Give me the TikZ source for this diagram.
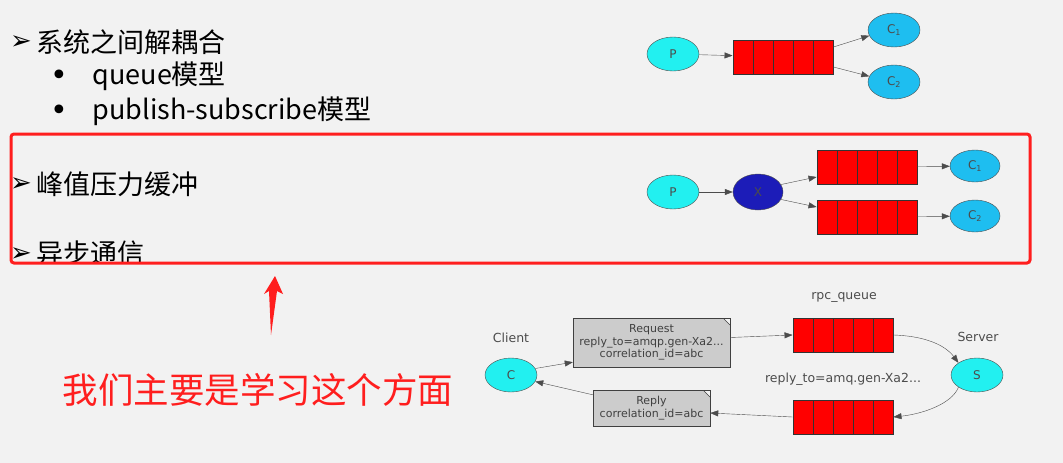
\documentclass[tikz,border=0pt]{standalone}
\usepackage{fontspec}
\setmainfont{Noto Sans CJK SC}
\newfontfamily\diag{DejaVu Sans}
\usetikzlibrary{arrows.meta,shapes.geometric}
\definecolor{bgray}{HTML}{F2F2F2}
\definecolor{hlred}{HTML}{FF1E1E}
\definecolor{prodcyan}{HTML}{22F0F0}
\definecolor{conblue}{HTML}{1EBEF0}
\definecolor{exblue}{HTML}{1C1CB8}
\definecolor{notegray}{HTML}{CCCCCC}

\begin{document}
\begin{tikzpicture}[x=1pt,y=-1pt,>={Triangle[length=8pt,width=6pt]},
  agent/.style={ellipse,draw=black!70,minimum width=52pt,minimum height=34pt,inner sep=0pt,
    text=black!70,font=\diag\fontsize{12}{12}\selectfont},
  producer/.style={agent,fill=prodcyan},
  consumer/.style={agent,fill=conblue},
  queue/.style={draw=black!80,line width=0.9pt,fill=red,minimum width=100pt,minimum height=34pt,inner sep=0pt,
    path picture={\foreach \i in {20,40,60,80}
      \draw[black!80,line width=0.9pt] ([xshift=\i pt]path picture bounding box.south west)
        -- ([xshift=\i pt]path picture bounding box.north west);}},
  msg/.style={draw=black!75,fill=notegray,align=center,inner sep=0pt,text=black!75,
    font=\diag\fontsize{11}{12.5}\selectfont,
    path picture={\fill[bgray] (path picture bounding box.north east) -- ++(-7pt,0) -- ++(7pt,-7pt) -- cycle;
      \draw[black!75] ([xshift=-7pt]path picture bounding box.north east) -- ++(7pt,-7pt);}},
  lbl/.style={text=black!70,font=\diag\fontsize{12.5}{12.5}\selectfont},
  link/.style={->,black!70},
  item/.style={anchor=west,font=\fontsize{27}{27}\selectfont},
  pointer/.style={font=\diag\fontsize{26}{26}\selectfont},
  dot/.style={font=\diag\fontsize{30}{30}\selectfont}]
  % slide background
  \fill[bgray] (0,0) rectangle (1063,463);

  % bullet list on the left
  \node[pointer] (m1) at (21,43) {➢};
  \node[item] (t1) at (33,42) {系统之间解耦合};
  \node[dot] (b1) at (59,78) {•};
  \node[item] (t2) at (89,76) {queue模型};
  \node[dot] (b2) at (59,113) {•};
  \node[item] (t3) at (89,111) {publish-subscribe模型};
  \node[pointer] (m2) at (21,185) {➢};
  \node[item] (t4) at (33,184) {峰值压力缓冲};
  \begin{scope}
    \clip (0,0) rectangle (1063,262);
    \node[pointer] (m3) at (21,255) {➢};
    \node[item] (t5) at (33,253) {异步通信};
  \end{scope}

  % highlight box and the remark below it
  \draw[hlred,line width=3pt,rounded corners=3pt] (11,134) rectangle (1030,263);
  \fill[hlred] (275,276) -- (283,294) -- (277,291) -- (271,335) -- (269,291) -- (264,294) -- cycle;
  \node[text=hlred,font=\fontsize{35.5}{35.5}\selectfont] (remark) at (258,390) {我们主要是学习这个方面};

  % work queue: P -> queue -> C1, C2
  \node[producer] (pa) at (673,54) {P};
  \node[queue] (qa) at (783,57) {};
  \node[consumer] (ca1) at (894,30) {C\textsubscript{1}};
  \node[consumer] (ca2) at (894,82) {C\textsubscript{2}};
  \draw[link] (pa) -- (qa);
  \draw[link] ([yshift=10pt]qa.east) -- (ca1.193);
  \draw[link] ([yshift=-10pt]qa.east) -- (ca2.167);

  % publish/subscribe: P -> X -> two queues -> C1, C2
  \node[producer] (pb) at (673,192) {P};
  \node[agent,fill=exblue,minimum width=50pt,minimum height=36pt] (x) at (758,192) {X};
  \node[queue] (qb1) at (867,167) {};
  \node[queue] (qb2) at (867,217) {};
  \node[consumer,minimum width=50pt,minimum height=32pt] (cb1) at (975,166) {C\textsubscript{1}};
  \node[consumer,minimum width=50pt,minimum height=32pt] (cb2) at (975,216) {C\textsubscript{2}};
  \draw[link] (pb) -- (x);
  \draw[link] (x.18) -- ([yshift=-10pt]qb1.west);
  \draw[link] (x.-18) -- ([yshift=10pt]qb2.west);
  \draw[link] (qb1) -- (cb1);
  \draw[link] (qb2) -- (cb2);

  % rpc: client, request/reply messages, queues, server
  \node[lbl] (client) at (511,338) {Client};
  \node[producer] (c) at (511,375) {C};
  \node[msg,minimum width=157pt,minimum height=49pt] (req) at (651.5,342.5)
    {Request\\reply\_to=amqp.gen-Xa2...\\correlation\_id=abc};
  \node[msg,minimum width=117pt,minimum height=36pt] (rep) at (651.5,408)
    {Reply\\correlation\_id=abc};
  \node[lbl] (rpcname) at (844,297) {rpc\_queue};
  \node[queue] (rq) at (843,335) {};
  \node[lbl] (replyname) at (843,379) {reply\_to=amq.gen-Xa2...};
  \node[queue] (rr) at (843,417) {};
  \node[lbl] (server) at (978,337) {Server};
  \node[producer] (s) at (977,375) {S};
  \draw[link] (c.15) -- ([yshift=5pt]req.south west);
  \draw[link] ([yshift=5pt]req.east) -- (rq.west);
  \draw[link] (rq.east) .. controls (925,336) and (945,345) .. (s.north west);
  \draw[link] (s.south west) .. controls (952,404) and (922,414) .. (rr.east);
  \draw[link] (rr.west) -- ([yshift=-5pt]rep.east);
  \draw[link] ([yshift=-5pt]rep.north west) -- (c.-15);
\end{tikzpicture}
\end{document}
